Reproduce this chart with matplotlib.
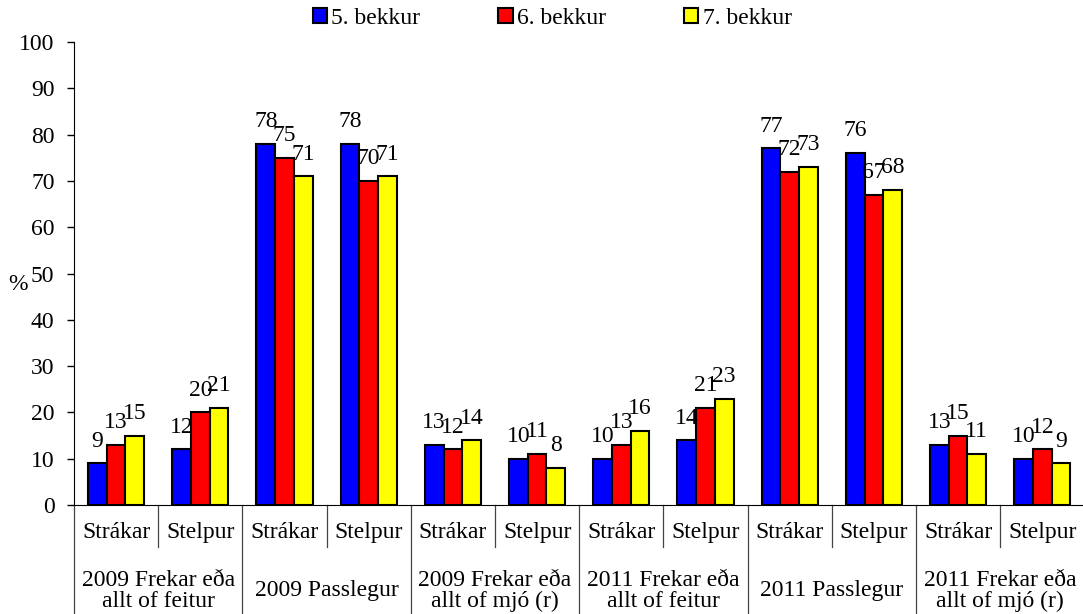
import numpy as np
import matplotlib.pyplot as plt
from matplotlib.patches import Patch

plt.rcParams['font.family'] = ['Liberation Serif', 'DejaVu Serif']
plt.rcParams['font.size'] = 17

# gögn
flokkar = ['2009 Frekar eða\nallt of feitur', '2009 Passlegur',
           '2009 Frekar eða\nallt of mjó (r)', '2011 Frekar eða\nallt of feitur',
           '2011 Passlegur', '2011 Frekar eða\nallt of mjó (r)']
kyn = ['Strákar', 'Stelpur']
bekkir = ['5. bekkur', '6. bekkur', '7. bekkur']
b5 = [9, 12, 78, 78, 13, 10, 10, 14, 77, 76, 13, 10]
b6 = [13, 20, 75, 70, 12, 11, 13, 21, 72, 67, 15, 12]
b7 = [15, 21, 71, 71, 14, 8, 16, 23, 73, 68, 11, 9]
litir = ['#0000FF', '#FF0000', '#FFFF00']

fig = plt.figure(figsize=(10.83, 6.14), dpi=100)
ax = fig.add_axes([0.0683, 0.1775, 0.933, 0.7541])

x = np.arange(len(b5))
w = 0.222
for i, (vals, c) in enumerate(zip([b5, b6, b7], litir)):
    pos = x + (i - 1) * w
    ax.bar(pos, vals, width=w, color=c, edgecolor='black', linewidth=1.5)
    for p, v in zip(pos, vals):
        ax.annotate(str(v), (p, v), xytext=(0, 12), textcoords='offset points',
                    ha='center', va='baseline')

ax.set_xlim(-0.5, len(b5) - 0.5)
ax.set_ylim(0, 100)
ax.set_yticks(range(0, 101, 10))
ax.tick_params(axis='y', length=5, width=1, pad=9)
ax.spines['top'].set_visible(False)
ax.spines['right'].set_visible(False)

# tveggja hæða x-ás
ax.set_xticks(x)
ax.set_xticklabels(kyn * len(flokkar))
ax.tick_params(axis='x', length=0, pad=12)
trans = ax.get_xaxis_transform()
for b in np.arange(-0.5, len(b5), 1.0):
    stutt = int(round(b + 0.5)) % 2 == 1
    y0 = -0.09 if stutt else -0.24
    ax.plot([b, b], [0, y0], color='#444444', lw=0.9, transform=trans, clip_on=False)
for j, f in enumerate(flokkar):
    ax.text(2 * j + 0.5, -0.185, f, transform=trans, ha='center', va='center',
            linespacing=1.0)

fig.text(18 / 1083, (614 - 285) / 614, '%', ha='center', va='center')

handles = [Patch(facecolor=c, edgecolor='black', linewidth=1.5) for c in litir]
fig.legend(handles, bekkir, loc='center', bbox_to_anchor=(0.51, 1 - 18 / 614),
           ncol=3, frameon=False, handlelength=0.6, handleheight=0.6,
           handletextpad=0.2, columnspacing=3.3, borderpad=0)

fig.savefig('out.png', dpi=100)
